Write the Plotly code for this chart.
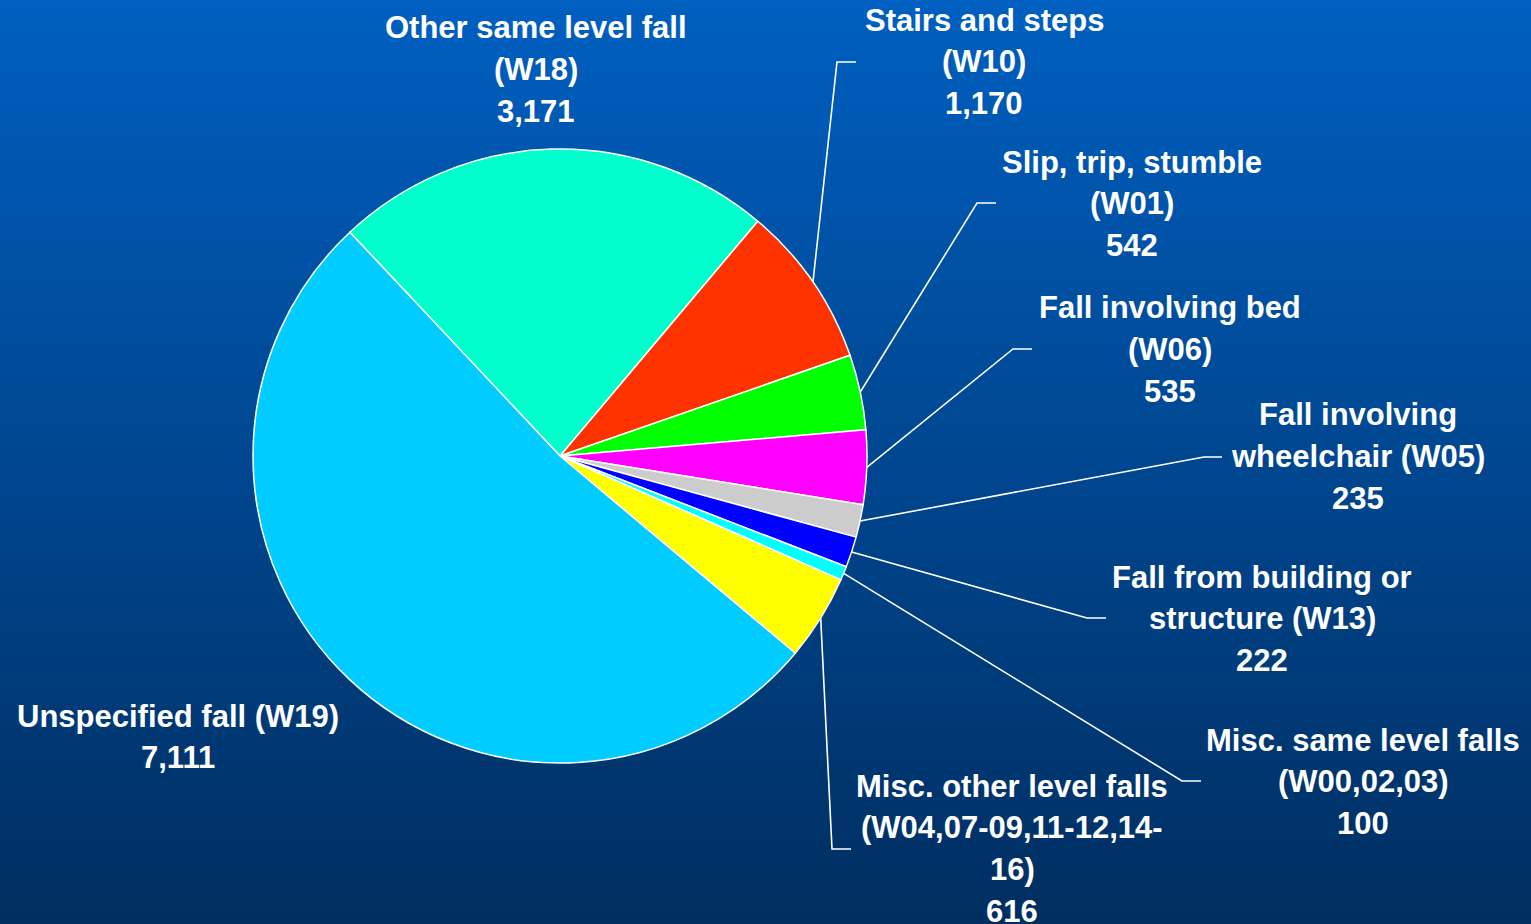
import math
import plotly.graph_objects as go

# ---------------- data ----------------
categories = [
    "Other same level fall (W18)",
    "Stairs and steps (W10)",
    "Slip, trip, stumble (W01)",
    "Fall involving bed (W06)",
    "Fall involving wheelchair (W05)",
    "Fall from building or structure (W13)",
    "Misc. same level falls (W00,02,03)",
    "Misc. other level falls (W04,07-09,11-12,14-16)",
    "Unspecified fall (W19)",
]
values = [3171, 1170, 542, 535, 235, 222, 100, 616, 7111]
label_lines = [
    ["Other same level fall", "(W18)"],
    ["Stairs and steps", "(W10)"],
    ["Slip, trip, stumble", "(W01)"],
    ["Fall involving bed", "(W06)"],
    ["Fall involving", "wheelchair (W05)"],
    ["Fall from building or", "structure (W13)"],
    ["Misc. same level falls", "(W00,02,03)"],
    ["Misc. other level falls", "(W04,07-09,11-12,14-", "16)"],
    ["Unspecified fall (W19)"],
]

# ---------------- style / layout ----------------
colors = ["#00FFCC", "#FF3300", "#00FF00", "#FF00FF", "#CCCCCC",
          "#0000FF", "#00FFFF", "#FFFF00", "#00CCFF"]
W, H = 1531, 924
CX, CY, R = 560, 456, 307
ROTATION = -43.2
FONT = dict(family="Liberation Sans, Arial, sans-serif", size=31, color="white", weight="bold")
LINE_H = 41.7

# label block placement (pixels): centre x, first line centre y, leader elbow, leader end
label_pos = [
    dict(x=536, y=28, elbow=None),
    dict(x=984, y=20, elbow=(837, 62), end=856),
    dict(x=1132, y=162, elbow=(977, 203), end=996),
    dict(x=1170, y=308, elbow=(1013, 349), end=1032),
    dict(x=1358, y=415, elbow=(1204, 457), end=1222),
    dict(x=1262, y=577, elbow=(1087, 618), end=1106),
    dict(x=1363, y=740, elbow=(1182, 781), end=1201),
    dict(x=1012, y=786, elbow=(832, 849), end=851),
    dict(x=178, y=716, elbow=None),
]


def px(x):
    return x / W


def py(y):
    return 1 - y / H


fig = go.Figure()
fig.add_trace(go.Pie(
    labels=categories,
    values=values,
    sort=False,
    direction="clockwise",
    rotation=ROTATION,
    textinfo="none",
    hoverinfo="label+value",
    marker=dict(colors=colors, line=dict(color="white", width=1.5)),
    domain=dict(x=[px(CX - R), px(CX + R)], y=[py(CY + R), py(CY - R)]),
    showlegend=False,
))

shapes = []
# vertical gradient background
top = (0, 95, 192)
bot = (0, 46, 96)
nb = 231
for i in range(nb):
    t = (i + 0.5) / nb
    c = tuple(round(top[k] + (bot[k] - top[k]) * t) for k in range(3))
    shapes.append(dict(type="rect", xref="paper", yref="paper", layer="below",
                       x0=0, x1=1, y0=py(i * H / nb), y1=py((i + 1) * H / nb + 0.6),
                       fillcolor="rgb(%d,%d,%d)" % c, line=dict(width=0)))

# leader lines from slice mid-angles
total = sum(values)
cum = 0
annotations = []
for i, v in enumerate(values):
    mid = ROTATION + (cum + v / 2) / total * 360
    cum += v
    pos = label_pos[i]
    if pos.get("elbow"):
        a = math.radians(mid)
        sx, sy = CX + R * math.sin(a), CY - R * math.cos(a)
        ex, ey = pos["elbow"]
        path = "M %f %f L %f %f L %f %f" % (px(sx), py(sy), px(ex), py(ey), px(pos["end"]), py(ey))
        shapes.append(dict(type="path", xref="paper", yref="paper", path=path,
                           line=dict(color="white", width=1.6)))
    lines = label_lines[i] + ["{:,}".format(v)]
    for j, ln in enumerate(lines):
        annotations.append(dict(text=ln, x=px(pos["x"]), y=py(pos["y"] + j * LINE_H),
                                xref="paper", yref="paper", xanchor="center", yanchor="middle",
                                showarrow=False, font=FONT))

fig.update_layout(
    width=W, height=H,
    margin=dict(l=0, r=0, t=0, b=0),
    paper_bgcolor="rgb(0,70,144)",
    shapes=shapes,
    annotations=annotations,
)
fig.write_html(
    "out.html",
    config={"displayModeBar": False},
    post_script="document.body.style.margin='0';document.body.style.overflow='hidden';",
)
